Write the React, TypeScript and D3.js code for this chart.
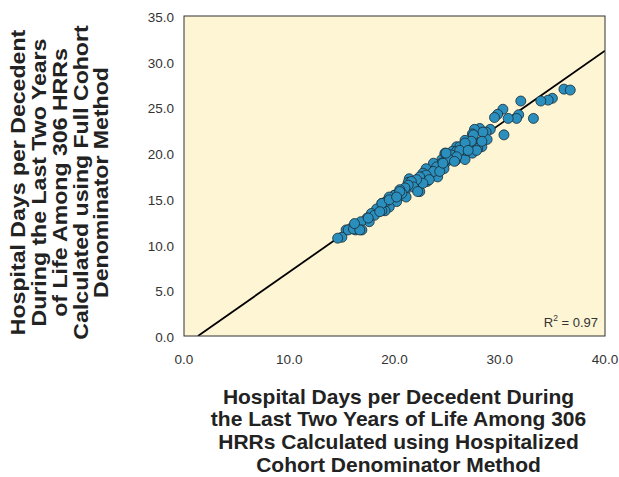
import React, { useEffect, useRef } from 'react';
import * as d3 from 'd3';

// hospitalized cohort denominator (x) vs full cohort denominator (y)
const xValues = [
  36.1, 36.7, 35.0, 34.6, 33.9, 32.0, 33.2, 31.8, 31.6, 30.8, 30.3, 29.8, 29.5, 30.4, 29.1,
  28.7, 28.1, 27.6, 27.4, 27.5, 28.3, 28.8, 28.3, 27.9, 26.7, 27.0, 26.9, 27.4, 26.7, 25.9,
  26.1, 25.5, 24.8, 25.8, 25.2, 24.9, 24.5, 24.7, 24.3, 23.7, 23.6, 24.1, 23.3, 23.0, 22.7,
  23.1, 22.6, 22.2, 22.4, 21.4, 21.3, 21.8, 22.0, 21.1, 21.0, 20.6, 20.4, 21.1, 20.0, 19.7,
  20.2, 19.2, 19.5, 18.8, 19.1, 18.3, 18.8, 17.8, 18.1, 17.4, 17.6, 16.8, 16.9, 16.3, 15.9,
  15.4, 15.0, 14.6,
  26.2, 25.9, 26.8, 25.4, 24.8, 24.9, 24.5, 24.0, 23.7, 24.3, 23.0, 23.3, 22.4, 22.7, 22.1,
  21.6, 21.8, 21.3, 21.0, 20.5, 20.7, 20.0, 19.5, 19.2, 18.8, 22.2,
  28.4, 27.5, 27.3, 28.3, 27.8, 26.7, 26.2, 27.0, 25.9, 25.1, 24.9, 25.7, 24.6,
  15.6, 16.1, 16.7, 16.2, 17.5, 18.6, 19.5, 20.5, 20.2,
];
const yValues = [
  27.0, 26.9, 26.0, 25.8, 25.7, 25.7, 23.8, 24.2, 23.8, 23.8, 24.8, 24.25, 23.9, 22.0, 22.6,
  22.3, 22.7, 22.6, 22.1, 21.3, 21.3, 21.5, 20.7, 20.5, 21.4, 20.9, 20.2, 20.0, 19.3, 20.7,
  20.3, 20.2, 19.9, 19.2, 19.5, 19.0, 19.3, 18.3, 18.7, 18.9, 18.0, 17.4, 17.6, 18.3, 17.8,
  16.9, 17.4, 17.1, 15.8, 17.2, 16.8, 16.6, 16.2, 16.2, 15.8, 15.8, 15.2, 15.2, 15.4, 15.0,
  14.7, 14.7, 14.1, 14.5, 13.7, 13.9, 13.7, 13.4, 13.2, 12.9, 12.5, 12.5, 11.6, 11.6, 11.8,
  11.6, 10.8, 10.7,
  20.7, 20.2, 20.3, 19.8, 20.0, 19.2, 18.9, 18.5, 18.0, 18.0, 17.6, 17.1, 17.4, 16.7, 17.1,
  16.9, 16.3, 16.5, 16.2, 16.0, 15.6, 15.4, 15.2, 14.7, 14.5, 15.8,
  22.3, 22.0, 21.3, 21.3, 20.3, 21.1, 20.3, 20.3, 19.6, 19.4, 20.0, 19.1, 18.9,
  11.6, 11.7, 11.6, 12.3, 12.9, 13.6, 14.9, 15.8, 15.2,
];
const xTicks = [0, 10, 20, 30, 40];
const yTicks = [0, 5, 10, 15, 20, 25, 30, 35];
const fitSlope = 0.807;
const fitIntercept = -1.07;
const rSquared = '0.97';
const xTitle = [
  'Hospital Days per Decedent During',
  'the Last Two Years of Life Among 306',
  'HRRs Calculated using Hospitalized',
  'Cohort Denominator Method',
];
const yTitle = [
  'Hospital Days per Decedent',
  'During the Last Two Years',
  'of Life Among 306 HRRs',
  'Calculated using Full Cohort',
  'Denominator Method',
];

const W = 619, H = 477;
const margin = { top: 16, right: 14, bottom: 141, left: 184 };

export default function App() {
  const ref = useRef<SVGSVGElement>(null);

  useEffect(() => {
    const svg = d3.select(ref.current);
    svg.selectAll('*').remove();
    const w = W - margin.left - margin.right;
    const h = H - margin.top - margin.bottom;
    const x = d3.scaleLinear().domain([0, 40]).range([0, w]);
    const y = d3.scaleLinear().domain([0, 35]).range([h, 0]);
    const font = '"Liberation Sans", Arial, sans-serif';

    const g = svg.append('g').attr('transform', `translate(${margin.left},${margin.top})`);

    g.append('rect').attr('width', w).attr('height', h).attr('fill', '#fdf5d3');

    // clip for fit line
    svg.append('clipPath').attr('id', 'plotclip')
      .append('rect').attr('width', w).attr('height', h);

    const x0 = -fitIntercept / fitSlope;
    g.append('line')
      .attr('clip-path', 'url(#plotclip)')
      .attr('x1', x(x0)).attr('y1', y(0))
      .attr('x2', x(40)).attr('y2', y(fitSlope * 40 + fitIntercept))
      .attr('stroke', '#000').attr('stroke-width', 1.8);

    const pts = xValues.map((v, i) => [v, yValues[i]]);
    g.selectAll('circle.pt').data(pts).join('circle')
      .attr('class', 'pt')
      .attr('cx', d => x(d[0])).attr('cy', d => y(d[1]))
      .attr('r', 5)
      .attr('fill', '#2a8fbd')
      .attr('stroke', '#1a2a33')
      .attr('stroke-width', 0.8);

    g.append('rect').attr('width', w).attr('height', h)
      .attr('fill', 'none').attr('stroke', '#333').attr('stroke-width', 1);

    // tick labels
    g.selectAll('text.yt').data(yTicks).join('text')
      .attr('class', 'yt')
      .attr('x', -10).attr('y', d => y(d) + 6)
      .attr('text-anchor', 'end')
      .attr('font-family', font).attr('font-size', 13.5).attr('fill', '#333')
      .text(d => d.toFixed(1));

    g.selectAll('text.xt').data(xTicks).join('text')
      .attr('class', 'xt')
      .attr('x', d => x(d)).attr('y', h + 28)
      .attr('text-anchor', 'middle')
      .attr('font-family', font).attr('font-size', 13.5).attr('fill', '#333')
      .text(d => d.toFixed(1));

    // R squared
    const r = g.append('text')
      .attr('x', w - 7).attr('y', h - 9.5)
      .attr('text-anchor', 'end')
      .attr('font-family', font).attr('font-size', 13).attr('fill', '#333');
    r.append('tspan').text('R');
    r.append('tspan').attr('dy', -6).attr('font-size', 8.5).text('2');
    r.append('tspan').attr('dy', 6).text(` = ${rSquared}`);

    // x title
    svg.append('text')
      .attr('text-anchor', 'middle')
      .attr('font-family', font).attr('font-size', 21).attr('font-weight', 'bold').attr('fill', '#222')
      .selectAll('tspan').data(xTitle).join('tspan')
      .attr('x', 398.5).attr('y', (d, i) => 403.5 + i * 22.7)
      .text(d => d);

    // y title (glyphs are stretched along the text in the original)
    svg.append('g').attr('transform', 'translate(0,182.5) rotate(-90) scale(1.1,1)')
      .append('text')
      .attr('text-anchor', 'middle')
      .attr('font-family', font).attr('font-size', 21).attr('font-weight', 'bold').attr('fill', '#222')
      .selectAll('tspan').data(yTitle).join('tspan')
      .attr('x', 0).attr('y', (d, i) => 25.5 + i * 20.7)
      .text(d => d);
  }, []);

  return (
    <svg ref={ref} width={W} height={H}
      style={{ display: 'block', position: 'absolute', left: 0, top: 0, overflow: 'visible' }} />
  );
}
